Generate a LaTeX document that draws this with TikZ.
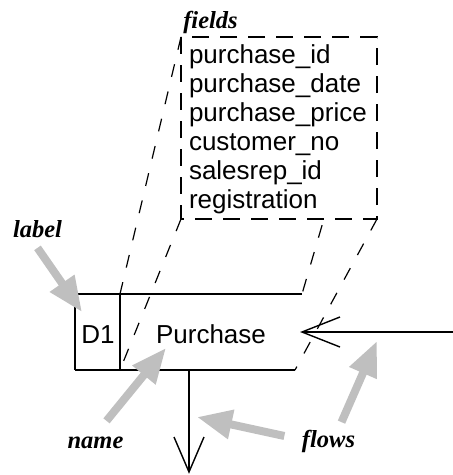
\documentclass[tikz,border=0pt]{standalone}
\usepackage{fontspec}
\setsansfont{Liberation Sans}
\newfontfamily\notefont{Liberation Serif}
\usetikzlibrary{arrows.meta}

\begin{document}
\begin{tikzpicture}[x=1pt,y=-1pt,line width=1.2pt,node distance=29pt,
    field/.style={inner sep=0pt,text width=180pt,align=left,text height=19pt,text depth=6pt,font=\fontsize{26}{29}\selectfont\sffamily},
    store text/.style={anchor=base,inner sep=0pt,font=\fontsize{26}{29}\selectfont\sffamily},
    note/.style={anchor=base,inner sep=0pt,font=\fontsize{24.5}{28}\selectfont\notefont\bfseries\itshape},
    pointer/.style={-{Triangle[length=35pt,width=28pt]},line width=8pt,draw=gray!50},
    flow/.style={line width=1.4pt},
    barb/.style={line width=1.4pt,miter limit=10},
    hidden/.style={dash pattern=on 13pt off 15pt},
    box/.style={dash pattern=on 17pt off 11pt,fill=white}]

                \useasboundingbox (0,0) rectangle (453,475);

                \coordinate (b1) at (181,37);
                \coordinate (b2) at (377,37);
                \coordinate (b3) at (181,219);
                \coordinate (b4) at (377,219);

                \coordinate (s1) at (75,294);
                \coordinate (s2) at (120,294);
                \coordinate (s3) at (302,294);
                \coordinate (s4) at (75,370);
                \coordinate (s5) at (120,370);
                \coordinate (s6) at (295,370);

                \draw[hidden] (b1) to (s2);
                \draw[hidden] (b3) to (s5);
                \draw[hidden] (b2) to (s3);
                \draw[hidden] (b4) to (s6);

                \draw[box] (b1) rectangle (b4);

                \node[field] (f1) at (279,56.5) {purchase\_id};
                \node[field] (f2) [below of = f1] {purchase\_date};
                \node[field] (f3) [below of = f2] {purchase\_price};
                \node[field] (f4) [below of = f3] {customer\_no};
                \node[field] (f5) [below of = f4] {salesrep\_id};
                \node[field] (f6) [below of = f5] {registration};

                \draw[-] (s1) to (s3);
                \draw[-] (s4) to (s6);
                \draw[-] (s1) to (s4);
                \draw[-] (s2) to (s5);

                \node[store text] (d1) at (98,343) {D1};
                \node[store text] (purchase) at (211,343) {Purchase};

                \coordinate (in) at (453,332);
                \coordinate (in tip) at (302,332);
                \coordinate (out) at (189,370);
                \coordinate (out tip) at (189,472);

                \draw[flow] (in) to (in tip);
                \draw[barb] ([shift={(38,-15)}]in tip) -- (in tip) -- ([shift={(38,15)}]in tip);
                \draw[flow] (out) to (out tip);
                \draw[barb] ([shift={(-15,-35)}]out tip) -- (out tip) -- ([shift={(15,-35)}]out tip);

                \node[note] (fields) at (210.5,28) {fields};
                \node[note] (label) at (37.5,237) {label};
                \node[note] (name) at (95.5,448) {name};
                \node[note] (flows) at (328.5,447) {flows};

                \coordinate (p1) at (82,312);
                \coordinate (p2) at (166,348);
                \coordinate (p3) at (197,417);
                \coordinate (p4) at (377,341);

                \draw[pointer] ([yshift=-10pt]label.south) to (p1);
                \draw[pointer] ([xshift=11pt,yshift=15pt]name.north) to (p2);
                \draw[pointer] ([xshift=-17pt,yshift=5pt]flows.west) to (p3);
                \draw[pointer] ([xshift=13pt,yshift=7pt]flows.north) to (p4);

                ;
            \end{tikzpicture}
\end{document}
